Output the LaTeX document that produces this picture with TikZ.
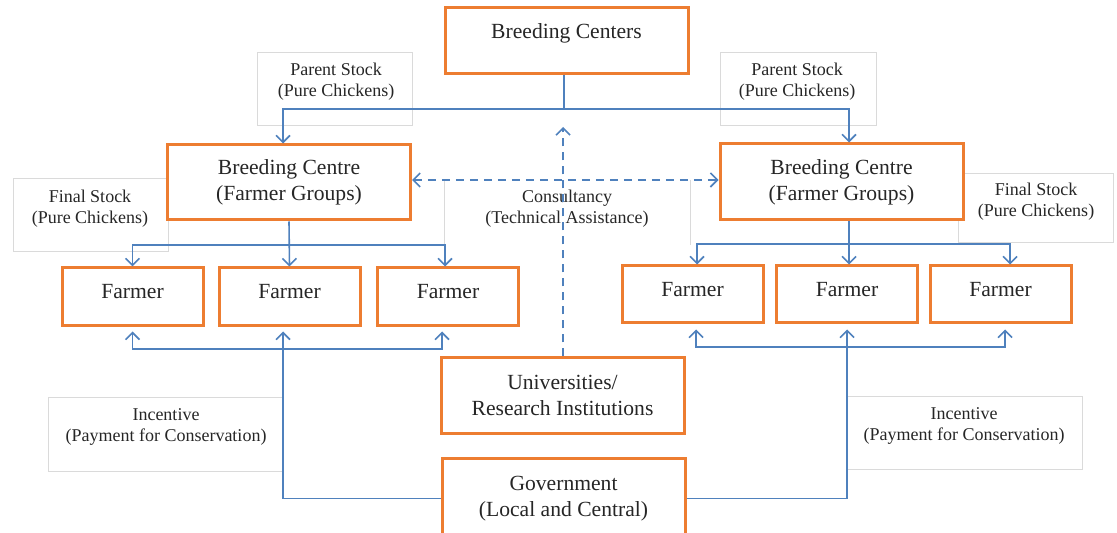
\documentclass[tikz,border=0pt]{standalone}
\usepackage{fontspec}
\setmainfont{Liberation Serif}
\usetikzlibrary{arrows.meta,positioning}
\definecolor{boxorange}{RGB}{237,125,49}
\definecolor{linkblue}{RGB}{79,129,189}
\definecolor{tagGray}{RGB}{218,218,218}
\tikzset{main box/.style={rectangle,draw=boxorange,line width=1.5pt,fill=white,text=black!85,align=center,font=\fontsize{10.8}{13}\selectfont,inner sep=0pt},
         big box/.style={main box,minimum width=121.5pt,minimum height=37.5pt},
         farmer box/.style={main box,minimum width=70.5pt,minimum height=29pt,text height=6pt,text depth=4pt},
         tag box/.style={rectangle,draw=tagGray,line width=0.5pt,inner sep=0pt},
         tag line/.style={draw=tagGray,line width=0.5pt},
         tag/.style={rectangle,draw=none,fill=none,align=center,text=black!85,font=\fontsize{9}{10.5}\selectfont,inner sep=0pt},
         link/.style={draw=linkblue,line width=0.8pt},
         dashed link/.style={link,dash pattern=on 4pt off 3pt}
}

\begin{document}
\begin{tikzpicture}[x=0.5pt,y=-0.5pt,
>={Straight Barb[length=3.5pt,width=7pt]}]
\useasboundingbox (0,0) rectangle (1117,533);

\node [tag box,minimum width=77.5pt,minimum height=36.5pt] (ps1 box) at (334.5,89.5) {};
\node [tag box,minimum width=78pt,minimum height=36.5pt] (ps2 box) at (798,89.5) {};
\node [tag box,minimum width=77.5pt,minimum height=36.5pt] (fs1 box) at (90.5,215.5) {};
\node [tag box,minimum width=77.5pt,minimum height=34.5pt] (fs2 box) at (1035.5,208.5) {};
\node [tag box,minimum width=117pt,minimum height=36.5pt] (in1 box) at (165,434.5) {};
\node [tag box,minimum width=117.5pt,minimum height=36pt] (in2 box) at (964.5,433) {};
\node [draw=none,minimum width=122.5pt,minimum height=32.5pt] (cs box) at (567.5,212.5) {};
\draw [tag line] (cs box.north west) -- (cs box.south west);
\draw [tag line] (cs box.north east) -- (cs box.south east);

\node [tag] (ps1) at (336,82) {Parent Stock\\(Pure Chickens)};
\node [tag] (ps2) at (797,82) {Parent Stock\\(Pure Chickens)};
\node [tag] (fs1) at (90,209) {Final Stock\\(Pure Chickens)};
\node [tag] (fs2) at (1036,202) {Final Stock\\(Pure Chickens)};
\node [tag] (cs) at (567,209) {Consultancy\\(Technical Assistance)};
\node [tag] (in1) at (166,427) {Incentive\\(Payment for Conservation)};
\node [tag] (in2) at (964,426) {Incentive\\(Payment for Conservation)};

\node [big box,minimum height=33pt,text height=3pt,text depth=5pt] (bc) at (566.5,41) {Breeding Centers};
\node [big box] (bg1) at (289,182.5) {Breeding Centre\\(Farmer Groups)};
\node [big box,minimum height=38pt] (bg2) at (841.5,182) {Breeding Centre\\(Farmer Groups)};
\node [farmer box] (f1) at (132.5,297) {Farmer};
\node [farmer box] (f2) at (289.5,297) {Farmer};
\node [farmer box] (f3) at (448,297) {Farmer};
\node [farmer box,minimum height=28.5pt] (f4) at (692.5,294.5) {Farmer};
\node [farmer box,minimum height=28.5pt] (f5) at (847,294.5) {Farmer};
\node [farmer box,minimum height=28.5pt] (f6) at (1000.5,294.5) {Farmer};
\node [big box] (uni) at (562.5,395.5) {Universities/\\Research Institutions};
\node [big box,minimum height=40.5pt] (gov) at (563.5,498.5) {Government\\(Local and Central)};

\coordinate (t0) at (564,109);
\coordinate (t1) at (283,109);
\coordinate (t2) at (849,109);
\draw [link] (t0 |- bc.south) -- (t0);
\draw [link,->] (t0) -- (t1) -- (t1 |- bg1.north);
\draw [link,->] (t0) -- (t2) -- (t2 |- bg2.north);

\coordinate (c0) at (563,180);
\coordinate (c1) at (563,127);
\draw [dashed link,<->] (bg1.east |- c0) -- (bg2.west |- c0);
\draw [dashed link,->] (uni.north -| c1) -- (c1);

\coordinate (l0) at (289,245);
\draw [link,->] (bg1.south) -- (f2.north);
\draw [link,->] (l0) -| (f1.north);
\draw [link,->] (l0) -| ([xshift=-1.5pt]f3.north);

\coordinate (r0) at (849,244);
\draw [link,->] (bg2.south -| r0) -- (r0 |- f5.north);
\draw [link,->] (r0) -| ([xshift=2.25pt]f4.north);
\draw [link,->] (r0) -| ([xshift=4.75pt]f6.north);

\coordinate (g1) at (283,349);
\draw [link] (gov.west) -| (g1);
\draw [link,->,shorten >=2pt] (g1) -- (g1 |- f2.south);
\draw [link,->,shorten >=2pt] (g1) -| (f1.south);
\draw [link,->,shorten >=2pt] (g1) -| ([xshift=-3pt]f3.south);

\coordinate (g2) at (847,347);
\draw [link] (gov.east) -| (g2);
\draw [link,->,shorten >=2.5pt] (g2) -- (f5.south);
\draw [link,->,shorten >=2.5pt] (g2) -| ([xshift=1.75pt]f4.south);
\draw [link,->,shorten >=2.5pt] (g2) -| ([xshift=2.25pt]f6.south);
\end{tikzpicture}
\end{document}
